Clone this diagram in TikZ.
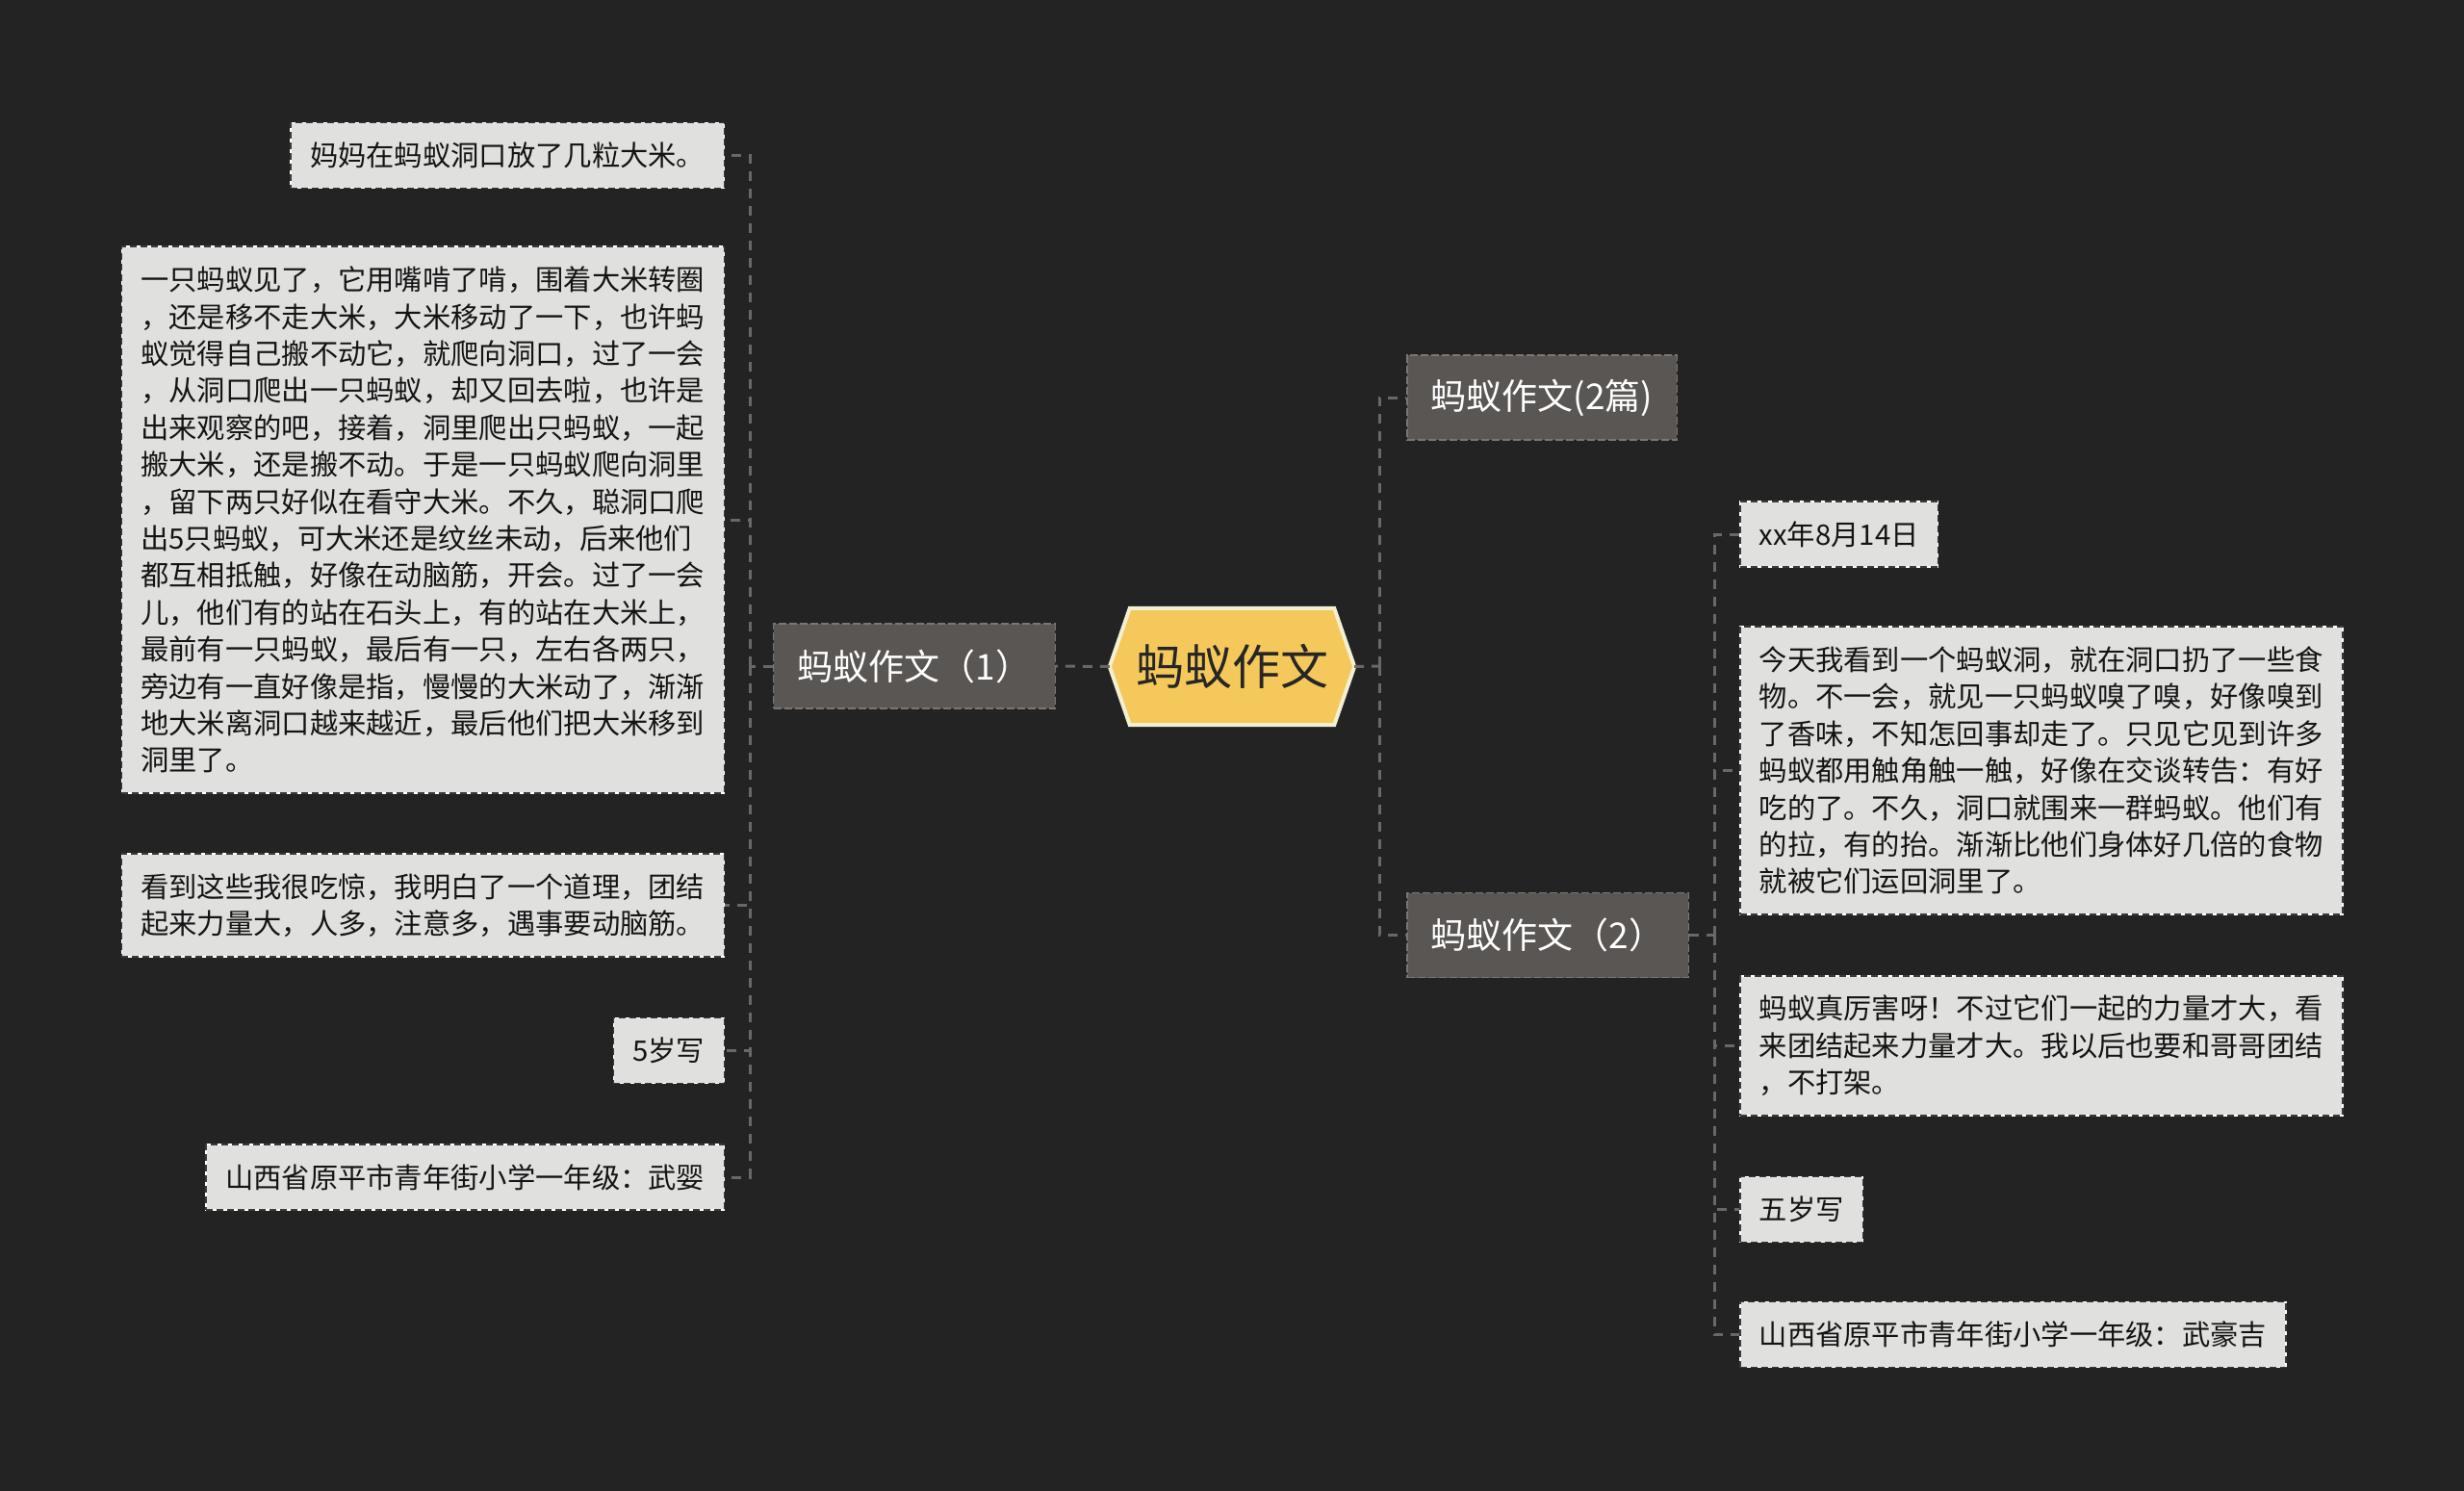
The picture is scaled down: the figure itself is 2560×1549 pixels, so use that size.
\documentclass[tikz,border=0pt]{standalone}
\usepackage{fontspec}
\setmainfont{Noto Sans CJK SC}
\usetikzlibrary{calc,backgrounds}
\definecolor{bgc}{HTML}{232323}
\definecolor{hexfill}{HTML}{F5C85B}
\definecolor{hexline}{HTML}{F3EFD2}
\definecolor{brfill}{HTML}{5A5654}
\definecolor{brline}{HTML}{7A7674}
\definecolor{leaffill}{HTML}{E0E0DF}
\definecolor{leafline}{HTML}{3A3A3A}
\definecolor{connc}{HTML}{6A6866}
\definecolor{leaftext}{HTML}{141414}
\begin{document}
\begin{tikzpicture}[x=1pt,y=-1pt,
  connline/.style={draw=connc, line width=3pt, dash pattern=on 10pt off 8pt},
  branch/.style={fill=brfill, draw=brline, line width=1.5pt, dash pattern=on 8pt off 3pt,
    text=white, font=\fontsize{37}{44}\selectfont, inner xsep=25pt, minimum height=88pt},
  leaf/.style={fill=leaffill, draw=white, line width=1.5pt,
    postaction={draw=leafline, line width=1.5pt, dash pattern=on 7pt off 4pt},
    text=leaftext, font=\fontsize{29.3}{38.4}\selectfont, inner xsep=20pt, align=left},
]
\begin{scope}[on background layer]
\fill[bgc] (0,0) rectangle (2560,1549);
\end{scope}
\useasboundingbox (0,0) rectangle (2560,1549);

% root
\node[minimum width=254pt, minimum height=121pt, inner sep=0pt, text=black!85,
      font=\fontsize{50}{58}\selectfont] (root) at (1280,692.5) {蚂蚁作文};
\begin{scope}[on background layer]
\draw[fill=hexfill, draw=hexline, line width=4pt, line join=miter]
  (root.west) -- ($(root.north west)+(21,0)$) -- ($(root.north east)+(-21,0)$)
  -- (root.east) -- ($(root.south east)+(-21,0)$) -- ($(root.south west)+(21,0)$) -- cycle;
\end{scope}

% branches
\node[branch, anchor=east] (b1) at (1097,692) {蚂蚁作文（1）};
\node[branch, anchor=west] (b2) at (1461,413) {蚂蚁作文(2篇)};
\node[branch, anchor=west] (b3) at (1461,971.5) {蚂蚁作文（2）};

% left leaves
\node[leaf, anchor=east, minimum height=68.4pt] (l1) at (753,161.5) {妈妈在蚂蚁洞口放了几粒大米。};
\node[leaf, anchor=east, minimum height=567.6pt] (l2) at (753,540) {一只蚂蚁见了，它用嘴啃了啃，围着大米转圈\\，还是移不走大米，大米移动了一下，也许蚂\\蚁觉得自己搬不动它，就爬向洞口，过了一会\\，从洞口爬出一只蚂蚁，却又回去啦，也许是\\出来观察的吧，接着，洞里爬出只蚂蚁，一起\\搬大米，还是搬不动。于是一只蚂蚁爬向洞里\\，留下两只好似在看守大米。不久，聪洞口爬\\出5只蚂蚁，可大米还是纹丝未动，后来他们\\都互相抵触，好像在动脑筋，开会。过了一会\\儿，他们有的站在石头上，有的站在大米上，\\最前有一只蚂蚁，最后有一只，左右各两只，\\旁边有一直好像是指，慢慢的大米动了，渐渐\\地大米离洞口越来越近，最后他们把大米移到\\洞里了。};
\node[leaf, anchor=east, minimum height=106.8pt] (l3) at (753,940.5) {看到这些我很吃惊，我明白了一个道理，团结\\起来力量大，人多，注意多，遇事要动脑筋。};
\node[leaf, anchor=east, minimum height=68.4pt] (l4) at (753,1091.5) {5岁写};
\node[leaf, anchor=east, minimum height=68.4pt] (l5) at (753,1223) {山西省原平市青年街小学一年级：武婴};

% right leaves
\node[leaf, anchor=west, minimum height=68.4pt] (r1) at (1807,555) {xx年8月14日};
\node[leaf, anchor=west, minimum height=298.8pt] (r2) at (1807,800.5) {今天我看到一个蚂蚁洞，就在洞口扔了一些食\\物。不一会，就见一只蚂蚁嗅了嗅，好像嗅到\\了香味，不知怎回事却走了。只见它见到许多\\蚂蚁都用触角触一触，好像在交谈转告：有好\\吃的了。不久，洞口就围来一群蚂蚁。他们有\\的拉，有的抬。渐渐比他们身体好几倍的食物\\就被它们运回洞里了。};
\node[leaf, anchor=west, minimum height=145.2pt] (r3) at (1807,1086.5) {蚂蚁真厉害呀！不过它们一起的力量才大，看\\来团结起来力量才大。我以后也要和哥哥团结\\，不打架。};
\node[leaf, anchor=west, minimum height=68.4pt] (r4) at (1807,1256.5) {五岁写};
\node[leaf, anchor=west, minimum height=68.4pt] (r5) at (1807,1386.5) {山西省原平市青年街小学一年级：武豪吉};

% connectors
\coordinate (lsp) at (779,692);
\coordinate (rsp) at (1433,692);
\coordinate (rsp2) at (1781,971.5);
\draw[connline] (root.west) -- (b1.east);
\draw[connline] (b1.west) -- (lsp);
\foreach \n in {l1,l2,l3,l4,l5} \draw[connline] (lsp) |- (\n.east);
\draw[connline] (root.east) -- (rsp);
\draw[connline] (rsp) |- (b2.west);
\draw[connline] (rsp) |- (b3.west);
\draw[connline] (b3.east) -- (rsp2);
\foreach \n in {r1,r2,r3,r4,r5} \draw[connline] (rsp2) |- (\n.west);
\end{tikzpicture}
\end{document}
